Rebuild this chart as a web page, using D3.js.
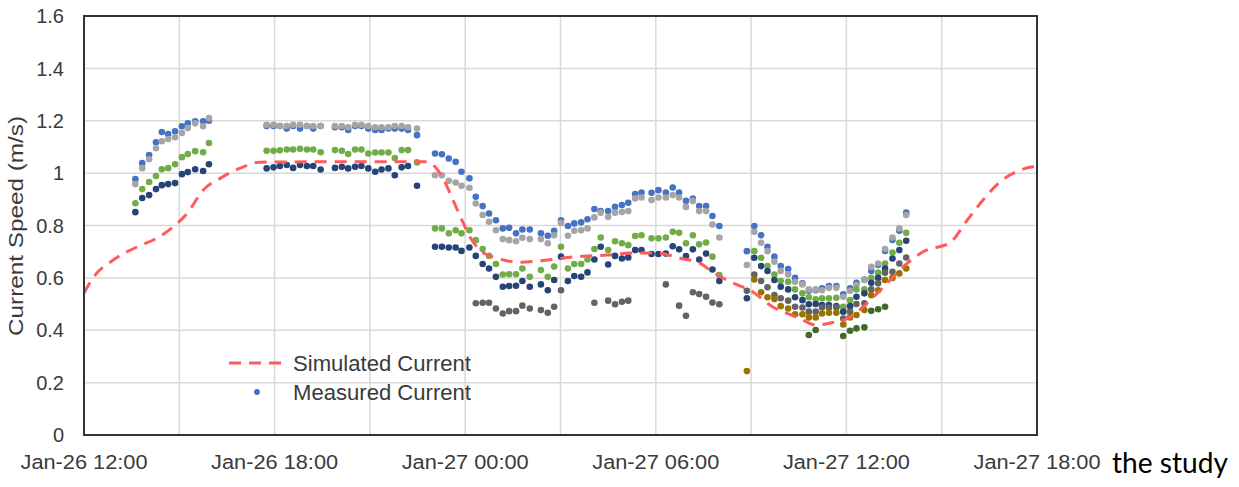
<!DOCTYPE html>
<html>
<head>
<meta charset="utf-8">
<script src="https://cdn.jsdelivr.net/npm/d3@7"></script>
<style>
  body { margin: 0; background: #fff; }
  svg text { font-family: "Liberation Sans", Arial, sans-serif; fill: #3a3a3a; }
</style>
</head>
<body>
<svg id="chart" width="1239" height="487"></svg>
<script>
// gaps in a series
const _ = null;

// sample times of the measured current (month-day hour:minute)
const times = [
  // Jan-26 afternoon
  "01-26 13:37","01-26 13:50","01-26 14:03","01-26 14:16","01-26 14:27","01-26 14:39",
  "01-26 14:52","01-26 15:05","01-26 15:16","01-26 15:30","01-26 15:45","01-26 15:56",
  // Jan-26 evening
  "01-26 17:45","01-26 17:58","01-26 18:10","01-26 18:23","01-26 18:35","01-26 18:48",
  "01-26 19:01","01-26 19:13","01-26 19:27",
  "01-26 19:54","01-26 20:07","01-26 20:19","01-26 20:32","01-26 20:44","01-26 20:57",
  "01-26 21:10","01-26 21:22","01-26 21:35","01-26 21:47","01-26 22:00","01-26 22:12","01-26 22:29",
  // night
  "01-26 23:03","01-26 23:16","01-26 23:29","01-26 23:42","01-26 23:53","01-27 00:08",
  "01-27 00:20","01-27 00:33","01-27 00:45","01-27 00:58","01-27 01:11","01-27 01:23",
  "01-27 01:36","01-27 01:48","01-27 02:02","01-27 02:23","01-27 02:36","01-27 02:48",
  "01-27 03:01","01-27 03:14","01-27 03:26","01-27 03:39","01-27 03:51","01-27 04:04",
  "01-27 04:16","01-27 04:30","01-27 04:43","01-27 04:56","01-27 05:08","01-27 05:21",
  "01-27 05:33","01-27 05:52","01-27 06:05","01-27 06:19","01-27 06:32","01-27 06:44",
  "01-27 06:57","01-27 07:10","01-27 07:22","01-27 07:35","01-27 07:47","01-27 08:00",
  // Jan-27 morning
  "01-27 08:52","01-27 09:06","01-27 09:19","01-27 09:31","01-27 09:44","01-27 09:56",
  "01-27 10:10","01-27 10:23","01-27 10:37","01-27 10:49","01-27 11:02","01-27 11:14",
  "01-27 11:27","01-27 11:41","01-27 11:54","01-27 12:07","01-27 12:19","01-27 12:34",
  "01-27 12:47","01-27 13:00","01-27 13:13","01-27 13:27","01-27 13:40","01-27 13:53"
];

const blue = [
  0.977,1.038,1.069,1.118,1.157,1.149,1.16,1.179,1.19,1.198,1.198,1.2,
  1.18,1.18,1.18,1.17,1.18,1.17,1.18,1.17,1.18,
  1.175,1.175,1.165,1.18,1.18,1.17,1.165,1.165,1.17,1.17,1.17,1.165,1.145,
  1.075,1.072,1.056,1.043,1.005,0.98,0.91,0.874,0.846,0.82,0.789,0.791,
  0.77,0.785,0.785,0.77,0.761,0.78,0.82,0.798,0.808,0.812,0.824,0.863,
  0.855,0.855,0.871,0.878,0.887,0.92,0.926,0.925,0.935,0.926,0.945,0.926,
  0.894,0.903,0.874,0.874,0.836,0.798,
  0.702,0.798,0.763,0.719,0.681,0.645,0.634,0.6,0.579,0.551,0.553,0.56,
  0.569,0.569,0.537,0.56,0.581,0.594,0.626,0.649,0.703,0.745,0.78,0.849
];

const gray = [
  0.958,1.019,1.053,1.095,1.122,1.13,1.137,1.153,1.172,1.19,1.179,1.21,
  1.185,1.185,1.18,1.18,1.185,1.185,1.18,1.18,1.18,
  1.18,1.18,1.175,1.185,1.185,1.18,1.175,1.175,1.175,1.18,1.18,1.175,1.17,
  0.992,0.992,0.971,0.964,0.952,0.944,0.884,0.84,0.814,0.782,0.748,0.744,
  0.74,0.753,0.748,0.748,0.732,0.763,0.81,0.761,0.78,0.782,0.789,0.831,
  0.849,0.833,0.849,0.852,0.855,0.903,0.907,0.897,0.907,0.907,0.916,0.907,
  0.871,0.894,0.855,0.855,0.804,0.754,
  0.649,0.776,0.734,0.702,0.662,0.626,0.614,0.585,0.575,0.556,0.556,0.553,
  0.562,0.562,0.528,0.551,0.573,0.592,0.642,0.655,0.71,0.754,0.789,0.84
];

const green = [
  0.885,0.939,0.966,0.989,1.015,1.019,1.034,1.061,1.073,1.084,1.08,1.115,
  1.085,1.085,1.087,1.09,1.09,1.093,1.09,1.09,1.08,
  1.088,1.085,1.073,1.09,1.09,1.075,1.079,1.079,1.079,1.058,1.088,1.088,1.041,
  0.789,0.789,0.77,0.782,0.77,0.782,0.744,0.71,0.684,0.653,0.613,0.614,
  0.614,0.636,0.604,0.63,0.604,0.643,0.719,0.636,0.653,0.653,0.67,0.71,
  0.754,0.706,0.74,0.732,0.725,0.76,0.763,0.751,0.751,0.754,0.776,0.772,
  0.732,0.763,0.728,0.735,0.681,0.611,
  _,0.702,0.677,0.645,0.613,0.588,0.585,0.556,0.541,0.526,0.518,0.522,
  0.522,0.524,0.49,0.515,0.556,0.556,0.6,0.62,0.655,0.697,0.734,0.772
];

const navy = [
  0.851,0.905,0.916,0.939,0.954,0.958,0.962,0.996,1.004,1.015,1.008,1.034,
  1.018,1.022,1.027,1.031,1.02,1.031,1.027,1.027,1.014,
  1.02,1.024,1.018,1.024,1.027,1.018,1.005,1.014,1.018,0.992,1.022,1.027,0.952,
  0.719,0.719,0.716,0.716,0.703,0.716,0.684,0.653,0.636,0.604,0.566,0.569,
  0.57,0.588,0.566,0.575,0.553,0.592,0.681,0.588,0.607,0.604,0.621,0.67,
  0.719,0.651,0.684,0.674,0.678,0.706,0.706,0.691,0.691,0.693,0.721,0.709,
  0.683,0.709,0.67,0.693,0.632,0.588,
  0.522,0.677,0.645,0.626,0.592,0.566,0.556,0.526,0.515,0.499,0.5,0.496,
  0.496,0.492,0.471,0.492,0.528,0.541,0.581,0.6,0.636,0.674,0.706,0.742
];

const darkGray = [
  _,_,_,_,_,_,_,_,_,_,_,_,
  _,_,_,_,_,_,_,_,_,
  _,_,_,_,_,_,_,_,_,_,_,_,_,
  _,_,_,_,_,_,0.503,0.505,0.505,0.483,0.464,0.473,
  0.473,0.494,0.483,0.477,0.467,0.49,0.553,_,_,_,_,0.505,
  _,0.513,0.499,0.509,0.513,_,_,_,_,0.575,_,0.494,
  0.455,0.545,0.538,0.528,0.506,0.499,
  0.551,0.613,0.588,0.564,0.534,0.522,0.513,0.49,0.487,0.471,0.471,0.487,
  0.487,0.487,0.445,0.471,0.5,0.503,0.556,0.579,0.62,0.623,0.655,0.678
];

const gold = [
  _,_,_,_,_,_,_,_,_,_,_,_,
  _,_,_,_,_,_,_,_,_,
  _,_,_,_,_,_,_,_,_,_,_,_,_,
  _,_,_,_,_,_,_,_,_,_,_,_,
  _,_,_,_,_,_,_,_,_,_,_,_,
  _,_,_,_,_,_,_,_,_,_,_,_,
  _,_,_,_,_,_,
  0.244,0.594,0.545,0.526,0.519,0.492,0.483,0.461,0.461,0.449,0.449,0.464,
  0.467,0.467,0.422,0.449,0.458,0.477,0.534,0.553,0.592,0.6,0.617,0.636
];

const darkGreen = [
  _,_,_,_,_,_,_,_,_,_,_,_,
  _,_,_,_,_,_,_,_,_,
  _,_,_,_,_,_,_,_,_,_,_,_,_,
  _,_,_,_,_,_,_,_,_,_,_,_,
  _,_,_,_,_,_,_,_,_,_,_,_,
  _,_,_,_,_,_,_,_,_,_,_,_,
  _,_,_,_,_,_,
  _,_,_,_,_,_,_,_,_,0.382,0.401,_,
  _,_,0.378,0.398,0.407,0.411,0.474,0.48,0.49,_,_,_
];

// simulated current (model output)
const simTimes = [
  "01-26 12:00","01-26 12:17","01-26 12:55","01-26 13:40","01-26 14:18","01-26 14:48",
  "01-26 15:15","01-26 15:45","01-26 16:17","01-26 16:55","01-26 17:32","01-26 19:00",
  "01-26 21:00","01-26 22:45","01-26 23:05","01-26 23:20","01-26 23:37","01-26 23:54",
  "01-27 00:09","01-27 00:28","01-27 01:00","01-27 01:44","01-27 02:35","01-27 03:24",
  "01-27 04:28","01-27 05:17","01-27 06:02","01-27 06:46","01-27 07:23","01-27 07:48",
  "01-27 08:26","01-27 08:58","01-27 09:41","01-27 10:27","01-27 11:04","01-27 11:35",
  "01-27 12:07","01-27 12:45","01-27 13:22","01-27 13:55","01-27 14:25","01-27 15:16",
  "01-27 15:48","01-27 16:18","01-27 16:50","01-27 17:28","01-27 18:00"
];
const simValues = [
  0.542,0.60,0.668,0.718,0.752,0.794,
  0.847,0.935,0.98,1.019,1.042,1.043,
  1.043,1.043,1.02,0.973,0.897,0.82,
  0.756,0.706,0.675,0.66,0.668,0.68,
  0.687,0.695,0.695,0.675,0.656,0.622,
  0.58,0.553,0.489,0.45,0.42,0.43,
  0.45,0.515,0.59,0.656,0.70,0.735,
  0.82,0.897,0.966,1.011,1.027
];

const yTicks = [0, 0.2, 0.4, 0.6, 0.8, 1, 1.2, 1.4, 1.6];
const yTickLabels = ["0", "0.2", "0.4", "0.6", "0.8", "1", "1.2", "1.4", "1.6"];
const xTickTimes = ["01-26 12:00", "01-26 18:00", "01-27 00:00", "01-27 06:00", "01-27 12:00", "01-27 18:00"];
const xDomain = ["01-26 12:00", "01-27 18:00"];

const yAxisLabel = "Current Speed (m/s)";
const simLabel = "Simulated Current";
const measLabel = "Measured Current";

const parse = d3.timeParse("%m-%d %H:%M");
const fmt = d3.timeFormat("%b-%d %H:%M");

// draw order: later series on top
const series = [
  { values: blue, color: "#4472C4" },
  { values: gray, color: "#A5A5A5" },
  { values: green, color: "#70AD47" },
  { values: navy, color: "#264478" },
  { values: darkGray, color: "#636363" },
  { values: gold, color: "#997300" },
  { values: darkGreen, color: "#43682B" }
];

const plotLeft = 84, plotRight = 1037, plotTop = 16, plotBottom = 435;
const simColor = "#FF5B5B";

const x = d3.scaleTime()
  .domain(xDomain.map(parse))
  .range([plotLeft, plotRight]);

const y = d3.scaleLinear()
  .domain([0, 1.6])
  .range([plotBottom, plotTop]);

const svg = d3.select("#chart");

svg.append("rect")
  .attr("width", 1239).attr("height", 487).attr("fill", "#fff");

// grid
svg.append("g")
  .selectAll("line")
  .data(x.ticks(d3.timeHour.every(3)))
  .enter()
  .append("line")
  .attr("x1", d => x(d)).attr("x2", d => x(d))
  .attr("y1", plotTop).attr("y2", plotBottom)
  .attr("stroke", "#D9D9D9").attr("stroke-width", 1.5);

svg.append("g")
  .selectAll("line")
  .data(yTicks)
  .enter()
  .append("line")
  .attr("x1", plotLeft).attr("x2", plotRight)
  .attr("y1", d => y(d)).attr("y2", d => y(d))
  .attr("stroke", "#D9D9D9").attr("stroke-width", 1.5);

// measured points
series.forEach(s => {
  const pts = times.map((t, i) => ({ t: parse(t), v: s.values[i] })).filter(d => d.v !== null);
  svg.append("g")
    .selectAll("circle")
    .data(pts)
    .enter()
    .append("circle")
    .attr("cx", d => x(d.t))
    .attr("cy", d => y(d.v))
    .attr("r", 3.3)
    .style("fill", s.color);
});

// simulated line
const simData = simTimes.map((t, i) => ({ t: parse(t), v: simValues[i] }));
svg.append("path")
  .datum(simData)
  .attr("fill", "none")
  .attr("stroke", simColor)
  .attr("stroke-width", 3)
  .attr("stroke-dasharray", "12,8")
  .attr("d", d3.line().x(d => x(d.t)).y(d => y(d.v)).curve(d3.curveMonotoneX));

// frame
svg.append("rect")
  .attr("x", plotLeft).attr("y", plotTop)
  .attr("width", plotRight - plotLeft).attr("height", plotBottom - plotTop)
  .attr("fill", "none").attr("stroke", "#333").attr("stroke-width", 2);

// y labels
svg.append("g")
  .selectAll("text")
  .data(yTicks)
  .enter()
  .append("text")
  .attr("x", 64)
  .attr("y", d => y(d))
  .attr("dy", "0.36em")
  .attr("text-anchor", "end")
  .style("font-size", "20px")
  .text((d, i) => yTickLabels[i]);

// x labels
svg.append("g")
  .selectAll("text")
  .data(xTickTimes.map(parse))
  .enter()
  .append("text")
  .attr("x", d => x(d))
  .attr("y", 469)
  .attr("text-anchor", "middle")
  .attr("textLength", 127)
  .attr("lengthAdjust", "spacingAndGlyphs")
  .style("font-size", "20px")
  .text(d => fmt(d));

svg.append("text")
  .attr("transform", "translate(16, 226) rotate(-90)")
  .attr("dy", "0.36em")
  .attr("text-anchor", "middle")
  .attr("textLength", 220)
  .attr("lengthAdjust", "spacingAndGlyphs")
  .style("font-size", "20px")
  .text(yAxisLabel);

// legend
const legend = svg.append("g");
legend.append("line")
  .attr("x1", 229).attr("x2", 285)
  .attr("y1", 363).attr("y2", 363)
  .attr("stroke", simColor).attr("stroke-width", 3)
  .attr("stroke-dasharray", "12,8");
legend.append("circle")
  .attr("cx", 257).attr("cy", 392).attr("r", 3)
  .style("fill", "#4472C4");
legend.selectAll("text")
  .data([simLabel, measLabel])
  .enter()
  .append("text")
  .attr("x", 293)
  .attr("y", (d, i) => 363 + i * 29)
  .attr("dy", "0.36em")
  .attr("textLength", 178)
  .attr("lengthAdjust", "spacingAndGlyphs")
  .style("font-size", "21.5px")
  .text(d => d);

// stray caption text cut from the page
svg.append("text")
  .attr("x", 1112)
  .attr("y", 473)
  .attr("textLength", 116)
  .attr("lengthAdjust", "spacingAndGlyphs")
  .style("font-family", "Lato, 'Open Sans', sans-serif")
  .style("font-size", "28px")
  .style("fill", "#000")
  .text("the study");
</script>
</body>
</html>
